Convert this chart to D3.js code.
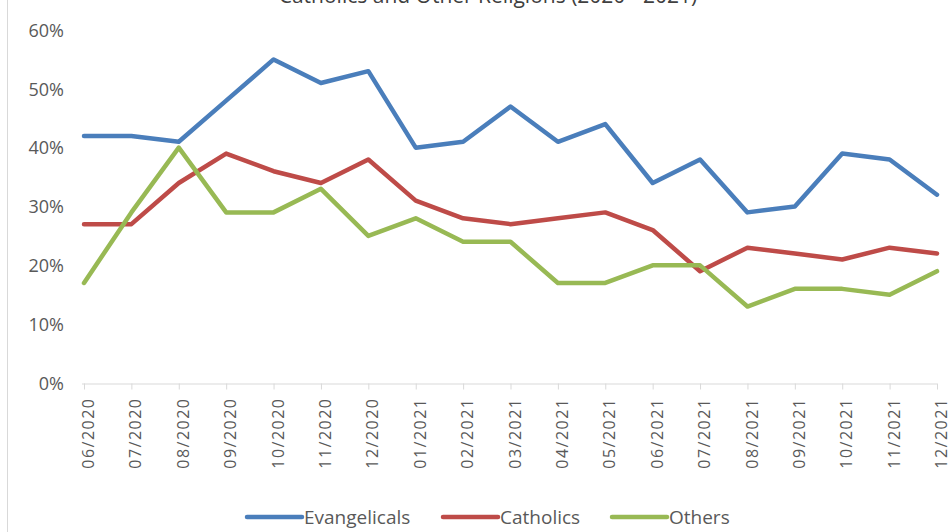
<!DOCTYPE html>
<html>
<head>
<meta charset="utf-8">
<script src="https://cdn.jsdelivr.net/npm/d3@7"></script>
<style>
  html, body { margin: 0; padding: 0; background: #fff; }
  svg { display: block; }
  text { font-family: "Open Sans", "Liberation Sans", sans-serif; }
</style>
</head>
<body>
<svg id="chart" width="951" height="532"></svg>
<script>
const titleText = "Catholics and Other Religions (2020 - 2021)";
const months = ["06/2020","07/2020","08/2020","09/2020","10/2020","11/2020","12/2020",
  "01/2021","02/2021","03/2021","04/2021","05/2021","06/2021","07/2021","08/2021",
  "09/2021","10/2021","11/2021","12/2021"];
const evangelicals = [42,42,41,48,55,51,53,40,41,47,41,44,34,38,29,30,39,38,32];
const catholics    = [27,27,34,39,36,34,38,31,28,27,28,29,26,19,23,22,21,23,22];
const others       = [17,29,40,29,29,33,25,28,24,24,17,17,20,20,13,16,16,15,19];
const yTicks = [0,10,20,30,40,50,60];
const seriesNames = ["Evangelicals","Catholics","Others"];
const seriesColors = ["#4a7ebb","#be4b48","#98b954"];

const series = [evangelicals, catholics, others].map((vals, i) => ({
  name: seriesNames[i], color: seriesColors[i],
  values: vals.map((v, j) => ({ m: months[j], v }))
}));

const svg = d3.select("#chart");

// left border line
svg.append("line").attr("x1", 7.5).attr("x2", 7.5).attr("y1", 0).attr("y2", 532)
  .attr("stroke", "#d9d9d9").attr("stroke-width", 1);

// title (partially cut at top, as in the reference)
svg.append("text").attr("x", 488).attr("y", 3).attr("text-anchor", "middle")
  .attr("font-size", 21).attr("fill", "#404040").text(titleText);

const x = d3.scalePoint().domain(months).range([84, 937]);
const y = d3.scaleLinear().domain([0, 60]).range([383, 30]);

// y axis labels
const yAxis = d3.axisLeft(y).tickValues(yTicks).tickFormat(d => d + "%").tickSize(0).tickPadding(0);
const ya = svg.append("g").attr("transform", "translate(64,0)").call(yAxis);
ya.select(".domain").remove();
ya.selectAll("text").attr("font-size", 18).attr("fill", "#595959")
  .attr("font-family", "'Open Sans', sans-serif").attr("dy", "0.35em");

// x axis
const xAxis = d3.axisBottom(x).tickSize(6).tickSizeOuter(0);
const xa = svg.append("g").attr("transform", "translate(0,383.5)").call(xAxis);
xa.select(".domain").attr("stroke", "#d9d9d9").attr("d", "M82,0.5H937");
xa.selectAll(".tick line").attr("stroke", "#d9d9d9");
xa.selectAll(".tick text")
  .attr("font-size", 16).attr("fill", "#595959")
  .attr("font-family", "'Open Sans', sans-serif")
  .attr("letter-spacing", 1.5)
  .attr("text-anchor", "end")
  .attr("x", -14).attr("y", 0).attr("dy", "0.35em")
  .attr("dx", 0)
  .attr("transform", "translate(4,0) rotate(-90)");

// lines
const line = d3.line().x(d => x(d.m)).y(d => y(d.v));
svg.append("g").selectAll("path").data(series).join("path")
  .attr("d", d => line(d.values))
  .attr("fill", "none")
  .attr("stroke", d => d.color)
  .attr("stroke-width", 4.5)
  .attr("stroke-linejoin", "round")
  .attr("stroke-linecap", "round");

// legend
const legendX = [247, 443, 612];
const lg = svg.append("g").selectAll("g").data(series).join("g")
  .attr("transform", (d, i) => `translate(${legendX[i]},517)`);
lg.append("line").attr("x1", 0).attr("x2", 55).attr("y1", 0).attr("y2", 0)
  .attr("stroke", d => d.color).attr("stroke-width", 4.5).attr("stroke-linecap", "round");
lg.append("text").attr("x", 57).attr("y", 0).attr("dy", "0.35em")
  .attr("font-size", 19).attr("fill", "#595959").text(d => d.name);
</script>
</body>
</html>
